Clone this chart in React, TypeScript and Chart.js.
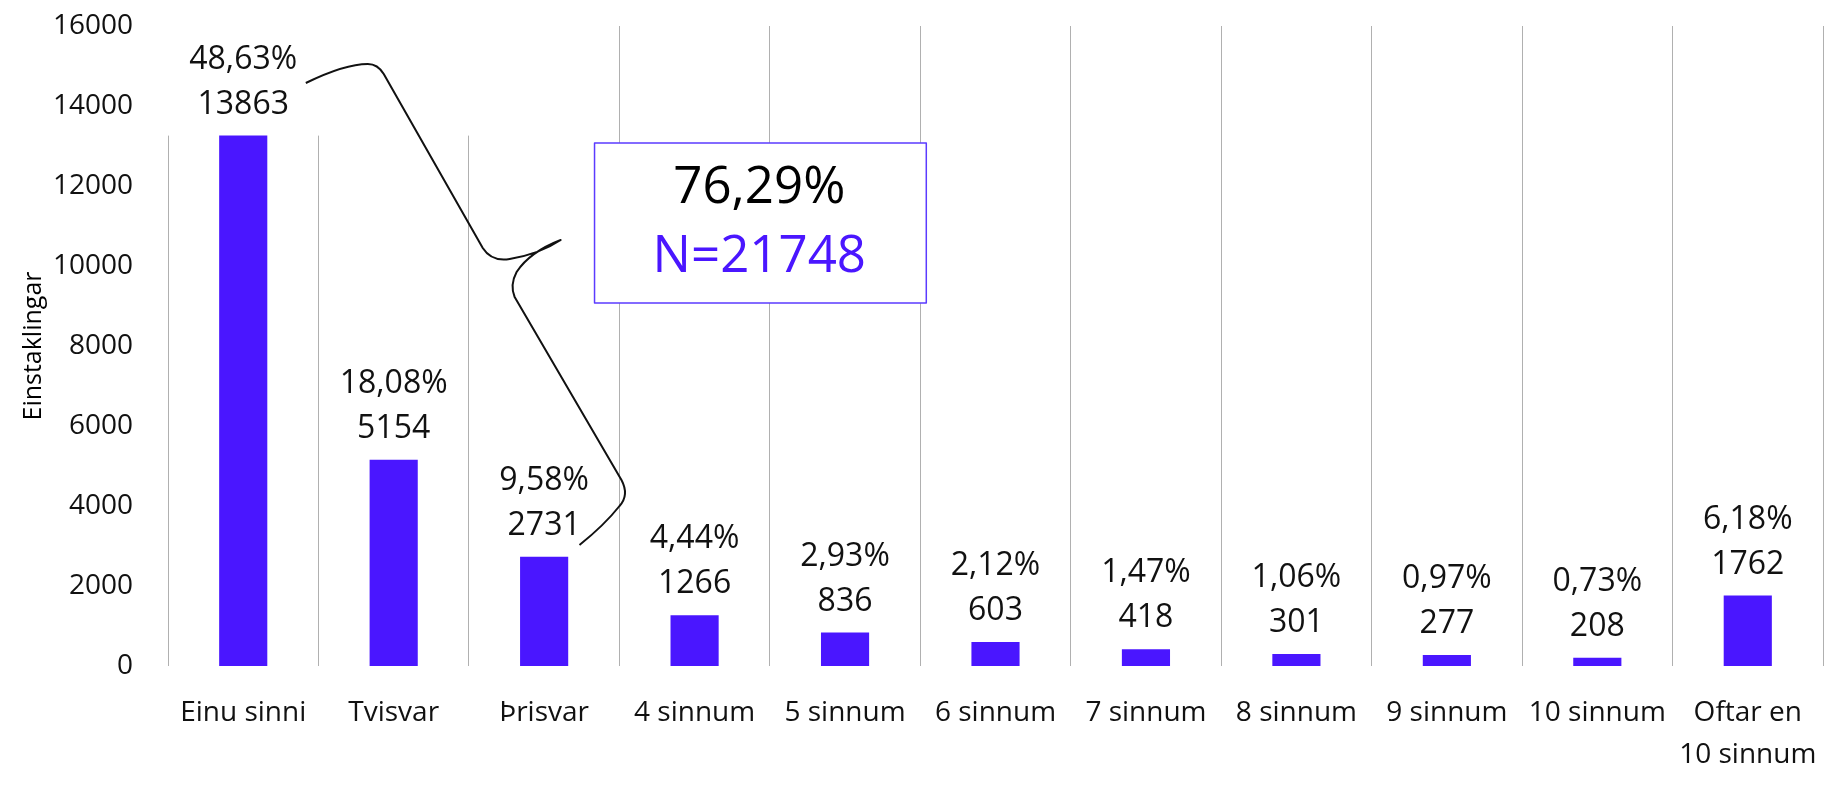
import React, { useEffect, useRef } from "react";
import { Chart, registerables } from "chart.js";

Chart.register(...registerables);

const categories: (string | string[])[] = [
  "Einu sinni",
  "Tvisvar",
  "Þrisvar",
  "4 sinnum",
  "5 sinnum",
  "6 sinnum",
  "7 sinnum",
  "8 sinnum",
  "9 sinnum",
  "10 sinnum",
  ["Oftar en", "10 sinnum"],
];

// heights of the bars as drawn (the first bar is shown cut short in the picture)
const barHeights = [13260, 5154, 2731, 1266, 836, 603, 418, 301, 277, 208, 1762];
// value labels
const countLabels = ["13863", "5154", "2731", "1266", "836", "603", "418", "301", "277", "208", "1762"];
const percentLabels = ["48,63%", "18,08%", "9,58%", "4,44%", "2,93%", "2,12%", "1,47%", "1,06%", "0,97%", "0,73%", "6,18%"];

const yTicksMax = 16000;
const yTickStep = 2000;
const yTitle = "Einstaklingar";

const calloutPercent = "76,29%";
const calloutN = "N=21748";

// callout annotation in (category index, value) units
const calloutBox = { x0: 2.335, x1: 4.54, v0: 13075, v1: 9075 };
const calloutTextPos = { x: 3.43, vTop: 11950, vBottom: 10225 };
const braceStart = [0.416, 14575];
const braceSegments: (["Q", number, number, number, number] | ["L", number, number])[] = [
  ["Q", 0.675, 15050, 0.828, 15050],
  ["Q", 0.894, 15050, 0.934, 14800],
  ["L", 1.592, 10450],
  ["Q", 1.651, 10100, 1.771, 10175],
  ["Q", 1.97, 10300, 2.11, 10650],
  ["Q", 1.904, 10350, 1.817, 9850],
  ["Q", 1.771, 9525, 1.804, 9225],
  ["L", 2.514, 4650],
  ["Q", 2.567, 4275, 2.501, 4000],
  ["Q", 2.401, 3525, 2.235, 3025],
];

const FONT = "'Open Sans', sans-serif";
const BAR_COLOR = "#4A16FF";

export default function App() {
  const canvasRef = useRef<HTMLCanvasElement | null>(null);

  useEffect(() => {
    if (!canvasRef.current) return;

    const helpers = (chart: any) => {
      const xs = chart.scales.x;
      const ys = chart.scales.y;
      const p0 = xs.getPixelForValue(0);
      const step = xs.getPixelForValue(1) - p0;
      return {
        px: (i: number) => p0 + i * step,
        py: (v: number) => ys.getPixelForValue(v),
      };
    };

    const maskPlugin = {
      id: "maskTop",
      beforeDatasetsDraw(chart: any) {
        const { ctx, chartArea } = chart;
        const { px, py } = helpers(chart);
        ctx.save();
        ctx.fillStyle = "#ffffff";
        const left = chartArea.left - 3;
        const right = px(1.5) + 3;
        const top = chartArea.top - 3;
        const bottom = py(barHeights[0]);
        ctx.fillRect(left, top, right - left, bottom - top);
        ctx.restore();
      },
    };

    const labelPlugin = {
      id: "valueLabels",
      afterDatasetsDraw(chart: any) {
        const { ctx } = chart;
        const meta = chart.getDatasetMeta(0);
        ctx.save();
        ctx.font = `32px ${FONT}`;
        ctx.fillStyle = "#111111";
        ctx.textAlign = "center";
        ctx.textBaseline = "middle";
        meta.data.forEach((el: any, i: number) => {
          ctx.fillText(countLabels[i], el.x, el.y - 31);
          ctx.fillText(percentLabels[i], el.x, el.y - 76);
        });
        ctx.restore();
      },
    };

    const calloutPlugin = {
      id: "callout",
      afterDraw(chart: any) {
        const { ctx } = chart;
        const { px, py } = helpers(chart);
        ctx.save();
        // brace
        ctx.beginPath();
        ctx.moveTo(px(braceStart[0]), py(braceStart[1]));
        braceSegments.forEach((s) => {
          if (s[0] === "Q") {
            ctx.quadraticCurveTo(px(s[1]), py(s[2]), px(s[3]), py(s[4]));
          } else {
            ctx.lineTo(px(s[1]), py(s[2]));
          }
        });
        ctx.strokeStyle = "#111111";
        ctx.lineWidth = 2;
        ctx.lineJoin = "round";
        ctx.stroke();

        // box
        const bx0 = px(calloutBox.x0);
        const bx1 = px(calloutBox.x1);
        const by0 = py(calloutBox.v0);
        const by1 = py(calloutBox.v1);
        ctx.fillStyle = "#ffffff";
        ctx.fillRect(bx0, by0, bx1 - bx0, by1 - by0);
        ctx.strokeStyle = "#5B3BFF";
        ctx.lineWidth = 1.5;
        ctx.strokeRect(bx0, by0, bx1 - bx0, by1 - by0);

        ctx.font = `51px ${FONT}`;
        ctx.textAlign = "center";
        ctx.textBaseline = "middle";
        ctx.fillStyle = "#000000";
        ctx.fillText(calloutPercent, px(calloutTextPos.x), py(calloutTextPos.vTop));
        ctx.fillStyle = BAR_COLOR;
        ctx.fillText(calloutN, px(calloutTextPos.x), py(calloutTextPos.vBottom));
        ctx.restore();
      },
    };

    const chart = new Chart(canvasRef.current, {
      type: "bar",
      data: {
        labels: categories,
        datasets: [
          {
            data: barHeights,
            backgroundColor: BAR_COLOR,
            borderWidth: 0,
            categoryPercentage: 1,
            barPercentage: 0.32,
          },
        ],
      },
      options: {
        responsive: true,
        maintainAspectRatio: false,
        animation: false,
        layout: { padding: { top: 18, right: 1, left: 0, bottom: 0 } },
        plugins: {
          legend: { display: false },
          tooltip: { enabled: false },
        },
        scales: {
          x: {
            grid: {
              offset: true,
              color: "#b0b0b0",
              lineWidth: 1,
              drawTicks: false,
            },
            border: { display: false },
            ticks: {
              font: { family: FONT, size: 28, lineHeight: 1.5 },
              color: "#111111",
              padding: 26,
              maxRotation: 0,
              autoSkip: false,
            },
            afterFit: (s: any) => {
              s.height = 116;
              s.paddingLeft = 0;
              s.paddingRight = 0;
            },
          },
          y: {
            min: 0,
            max: yTicksMax,
            grid: { display: false, drawTicks: false },
            border: { display: false },
            ticks: {
              stepSize: yTickStep,
              font: { family: FONT, size: 28 },
              color: "#111111",
              padding: 35,
              callback: (v: any) => String(v),
            },
            title: {
              display: true,
              text: yTitle,
              font: { family: FONT, size: 25 },
              color: "#000000",
              padding: { top: 11, bottom: 0 },
            },
            afterFit: (s: any) => {
              s.width = 160;
              s.paddingTop = 0;
              s.paddingBottom = 0;
            },
          },
        },
      },
      plugins: [maskPlugin, labelPlugin, calloutPlugin],
    });

    return () => chart.destroy();
  }, []);

  return (
    <div style={{ position: "relative", width: 1816, height: 774 }}>
      <canvas ref={canvasRef} />
    </div>
  );
}
